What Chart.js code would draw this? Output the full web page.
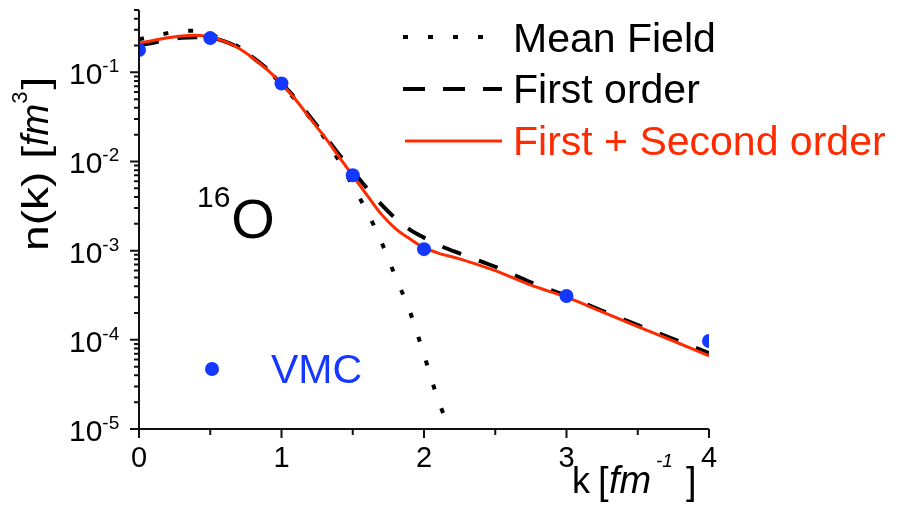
<!DOCTYPE html>
<html><head><meta charset="utf-8">
<script src="https://cdn.jsdelivr.net/npm/chart.js@4"></script>
<style>html,body{margin:0;padding:0;background:#fff}#wrap{width:903px;height:509px}</style>
</head><body><div id="wrap"><canvas id="c" width="903" height="509"></canvas></div>
<script>
// ---- data ----
const kMean = [0,0.1,0.2,0.3,0.4,0.5,0.6,0.7,0.8,0.9,1.0,1.1,1.2,1.3,1.4,1.5,1.6,1.7,1.8,1.9,2.0,2.1,2.2];
const meanField = [0.235,0.255,0.275,0.292,0.293,0.265,0.232,0.192,0.146,0.107,0.073,0.0488,0.0308,0.0185,0.0104,0.0053,0.00275,0.00126,0.00051,0.00021,0.000068,0.000021,0.0000085];
const kCurve = [0,0.1,0.2,0.3,0.4,0.5,0.6,0.7,0.8,0.9,1.0,1.1,1.2,1.3,1.4,1.5,1.6,1.7,1.8,1.9,2.0,2.1,2.25,2.5,2.75,3.0,3.25,3.5,3.75,4.0];
const firstOrder = [0.202,0.215,0.232,0.244,0.248,0.244,0.222,0.188,0.146,0.109,0.0755,0.0505,0.0318,0.0198,0.0122,0.0078,0.0050,0.0033,0.0023,0.00172,0.00140,0.00116,0.00093,0.00066,0.00044,0.00031,0.000212,0.000146,0.000102,0.000071];
const firstSecond = [0.213,0.228,0.244,0.256,0.260,0.249,0.222,0.186,0.144,0.107,0.0745,0.0492,0.0304,0.0191,0.0115,0.0069,0.0042,0.00257,0.00177,0.00136,0.00108,0.00094,0.00081,0.000596,0.00041,0.000301,0.000206,0.000141,0.000097,0.000066];
const kVMC = [0,0.5,1,1.5,2,3,4];
const vmc = [0.178,0.242,0.075,0.0070,0.00104,0.00031,0.000097];
const xMajorTicks = [0,1,2,3,4];
const xMinorTicks = [0.5,1.5,2.5,3.5];
const yDecades = [-5,-4,-3,-2,-1];
const legendLabels = ['Mean Field','First order','First + Second order'];
const vmcLabel = 'VMC';

const FONT = '"Liberation Sans", Arial, Helvetica, sans-serif';
const RED = '#ff2a00', BLUE = '#1438ff', AX = '#111';
const pts = (xs, ys) => xs.map((x, i) => ({x, y: ys[i]}));

function rich(ctx, parts, x, y) {
  let cx = x;
  for (const p of parts) {
    ctx.save();
    ctx.font = (p.italic ? 'italic ' : '') + p.size + 'px ' + FONT;
    ctx.fillStyle = p.color || '#000';
    ctx.textAlign = 'left'; ctx.textBaseline = 'alphabetic';
    if (p.x !== undefined) cx = p.x;
    cx += (p.dx || 0);
    const sx = p.sx || 1;
    const w = ctx.measureText(p.t).width * sx;
    ctx.translate(cx, y + (p.dy || 0));
    ctx.scale(sx, 1);
    ctx.fillText(p.t, 0, 0);
    ctx.restore();
    cx += w;
  }
  return cx;
}

const decor = {
  id: 'decor',
  afterDatasetsDraw(chart) {
    const ctx = chart.ctx, xs = chart.scales.x, ys = chart.scales.y;
    const L = xs.getPixelForValue(0), R = xs.getPixelForValue(4);
    const B = ys.getPixelForValue(1e-5), T = ys.getPixelForValue(0.5);
    ctx.save();
    ctx.strokeStyle = AX; ctx.lineWidth = 2; ctx.lineCap = 'butt';
    ctx.beginPath();
    ctx.moveTo(L, T); ctx.lineTo(L, B); ctx.lineTo(R, B);
    xMajorTicks.forEach(v => { const p = xs.getPixelForValue(v); ctx.moveTo(p, B); ctx.lineTo(p, B + 9); });
    xMinorTicks.forEach(v => { const p = xs.getPixelForValue(v); ctx.moveTo(p, B); ctx.lineTo(p, B + 6); });
    yDecades.forEach(d => {
      const base = Math.pow(10, d);
      const p = ys.getPixelForValue(base); ctx.moveTo(L, p); ctx.lineTo(L - 9, p);
      for (let m = 2; m <= 9; m++) {
        const v = m * base; if (v > 0.5 + 1e-9) break;
        const q = ys.getPixelForValue(v); ctx.moveTo(L, q); ctx.lineTo(L - 5, q);
      }
    });
    ctx.stroke();
    ctx.restore();

    // y tick labels
    yDecades.forEach(d => {
      const p = ys.getPixelForValue(Math.pow(10, d));
      rich(ctx, [{t: '10', size: 30}, {t: String(d), size: 19, dy: -12}], 69, p + 12);
    });
    // x tick labels
    ctx.save();
    ctx.font = '29px ' + FONT; ctx.fillStyle = '#000'; ctx.textAlign = 'center'; ctx.textBaseline = 'alphabetic';
    xMajorTicks.forEach(v => ctx.fillText(String(v), xs.getPixelForValue(v), 467));
    ctx.restore();

    // x title
    rich(ctx, [
      {t: 'k', size: 36, x: 572},
      {t: '[', size: 38, x: 598, dy: 1},
      {t: 'fm', size: 38, italic: true, x: 609},
      {t: '-1', size: 19, italic: true, x: 656, dy: -26},
      {t: ']', size: 38, x: 686, dy: 1}
    ], 572, 493);

    // y title (rotated)
    ctx.save();
    ctx.translate(48, 251);
    ctx.rotate(-Math.PI / 2);
    rich(ctx, [
      {t: 'n(k) [', size: 36, sx: 1.28},
      {t: 'fm', size: 38, italic: true},
      {t: '3', size: 22, dy: -21},
      {t: ']', size: 36, sx: 1.28, dx: 2}
    ], 0, 0);
    ctx.restore();

    // legend
    ctx.save();
    ctx.strokeStyle = '#000';
    ctx.lineWidth = 4; ctx.setLineDash([5, 20]);
    ctx.beginPath(); ctx.moveTo(403, 37); ctx.lineTo(484, 37); ctx.stroke();
    ctx.setLineDash([22, 18]);
    ctx.beginPath(); ctx.moveTo(403, 89); ctx.lineTo(502, 89); ctx.stroke();
    ctx.setLineDash([]); ctx.strokeStyle = RED; ctx.lineWidth = 3;
    ctx.beginPath(); ctx.moveTo(405, 141); ctx.lineTo(502, 141); ctx.stroke();
    ctx.font = '41px ' + FONT; ctx.textAlign = 'left'; ctx.textBaseline = 'alphabetic';
    ctx.fillStyle = '#000';
    ctx.fillText(legendLabels[0], 513, 52);
    ctx.fillText(legendLabels[1], 513, 103);
    ctx.fillStyle = RED;
    ctx.fillText(legendLabels[2], 513, 155);
    ctx.fillStyle = BLUE;
    ctx.beginPath(); ctx.arc(212, 369, 7, 0, Math.PI * 2); ctx.fill();
    ctx.fillText(vmcLabel, 271, 383);
    ctx.restore();

    // 16O annotation
    rich(ctx, [{t: '16', size: 30, dy: -31}, {t: 'O', size: 56, dx: 1}], 197, 238);
  }
};

new Chart(document.getElementById('c'), {
  type: 'scatter',
  data: {
    datasets: [
      {label: 'VMC', data: pts(kVMC, vmc), showLine: false, pointRadius: 7, pointHoverRadius: 7,
       pointBackgroundColor: BLUE, pointBorderWidth: 0, clip: 0, order: 0},
      {label: legendLabels[2], data: pts(kCurve, firstSecond), showLine: true, borderColor: RED, borderWidth: 3,
       pointRadius: 0, cubicInterpolationMode: 'monotone', clip: 0, order: 1},
      {label: legendLabels[1], data: pts(kCurve, firstOrder), showLine: true, borderColor: '#000', borderWidth: 4,
       borderDash: [20, 19], pointRadius: 0, cubicInterpolationMode: 'monotone', clip: 0, order: 2},
      {label: legendLabels[0], data: pts(kMean, meanField), showLine: true, borderColor: '#000', borderWidth: 4,
       borderDash: [5, 20], pointRadius: 0, cubicInterpolationMode: 'monotone', clip: 0, order: 3}
    ]
  },
  options: {
    responsive: false, animation: false, devicePixelRatio: 1,
    layout: {padding: {left: 139, right: 194, top: 10, bottom: 80}},
    plugins: {legend: {display: false}, tooltip: {enabled: false}},
    scales: {
      x: {type: 'linear', min: 0, max: 4, display: false},
      y: {type: 'logarithmic', min: 1e-5, max: 0.5, display: false}
    }
  },
  plugins: [decor]
});
</script>
</body></html>
